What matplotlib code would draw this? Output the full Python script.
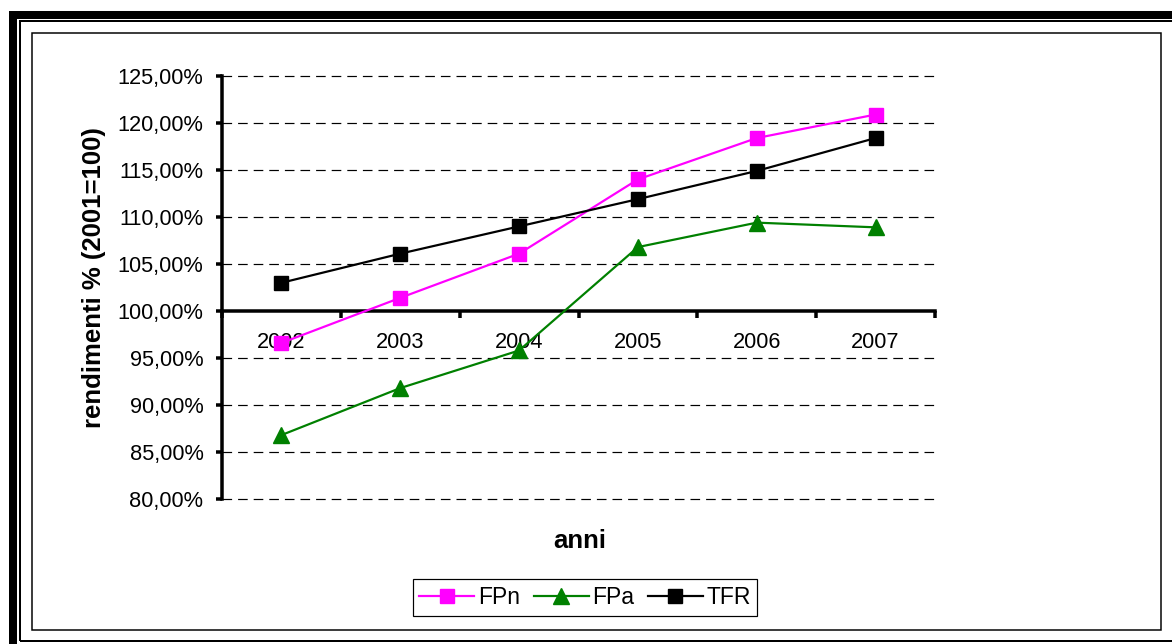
import matplotlib

matplotlib.use("Agg")
import matplotlib.pyplot as plt
from matplotlib.patches import Rectangle
from matplotlib.ticker import FixedLocator, FuncFormatter

plt.rcParams["font.family"] = ["Liberation Sans", "DejaVu Sans"]

# data (percent, 2001 = 100)
years = ["2002", "2003", "2004", "2005", "2006", "2007"]
fpn = [96.6, 101.4, 106.1, 114.0, 118.4, 120.9]
fpa = [86.8, 91.8, 95.8, 106.8, 109.4, 108.9]
tfr = [103.0, 106.1, 109.0, 111.9, 114.9, 118.4]
y_ticks = [80, 85, 90, 95, 100, 105, 110, 115, 120, 125]

W, H = 1172, 644


def fx(px):
    return px / W


def fy(py):
    return 1 - py / H


fig = plt.figure(figsize=(W / 100, H / 100), dpi=100)
px_pt = 72 / 100  # one pixel in points


def frame_rect(x0, y0, x1, y1, **kw):
    fig.add_artist(Rectangle((fx(x0), fy(y1)), fx(x1) - fx(x0), fy(y0) - fy(y1),
                             transform=fig.transFigure, zorder=-10, **kw))


# frame decoration (thick outer border, thin line, chart area box)
frame_rect(9, 11, 1300, 700, facecolor="black", edgecolor="none")
frame_rect(17, 19, 1300, 700, facecolor="white", edgecolor="none")
frame_rect(19.8, 21, 1300, 641, facecolor="none", edgecolor="black", linewidth=2 * px_pt)
frame_rect(31.5, 33, 1161, 630, facecolor="white", edgecolor="black", linewidth=1.5 * px_pt)

ax = fig.add_axes([fx(222), fy(499), fx(935) - fx(222), fy(76) - fy(499)])
ax.set_facecolor("none")

x = list(range(len(years)))
ax.plot(x, fpn, color="#FF00FF", linewidth=2.2 * px_pt, marker="s", markersize=14 * px_pt,
        label="FPn", zorder=4, clip_on=False)
ax.plot(x, fpa, color="#008000", linewidth=2.2 * px_pt, marker="^", markersize=16 * px_pt,
        label="FPa", zorder=4, clip_on=False)
ax.plot(x, tfr, color="black", linewidth=2.2 * px_pt, marker="s", markersize=14 * px_pt,
        label="TFR", zorder=4, clip_on=False)

ax.set_xlim(-0.5, len(years) - 0.5)
ax.set_ylim(80, 125)

# dashed gridlines
for v in y_ticks:
    if v != 100:
        ax.axhline(v, color="black", linewidth=1.2 * px_pt, dashes=(8, 5), zorder=1,
                   clip_on=False)

for s in ("top", "right"):
    ax.spines[s].set_visible(False)
ax.spines["left"].set_linewidth(3.5 * px_pt)
ax.spines["bottom"].set_linewidth(3.5 * px_pt)
ax.spines["bottom"].set_position(("data", 100))

ax.yaxis.set_major_locator(FixedLocator(y_ticks))
ax.yaxis.set_major_formatter(FuncFormatter(lambda v, _: f"{v:.2f}%".replace(".", ",")))
ax.tick_params(axis="y", direction="out", length=6 * px_pt, width=3.5 * px_pt,
               labelsize=15.7, pad=9)

ax.xaxis.set_major_locator(FixedLocator([i - 0.5 for i in range(len(years) + 1)]))
ax.xaxis.set_major_formatter(FuncFormatter(lambda v, _: ""))
ax.xaxis.set_minor_locator(FixedLocator(x))
ax.xaxis.set_minor_formatter(FuncFormatter(lambda v, _: years[int(round(v))]))
ax.tick_params(axis="x", which="major", direction="out", length=7 * px_pt, width=3.5 * px_pt)
ax.tick_params(axis="x", which="minor", length=0, labelsize=15.7, pad=15)

fig.text(fx(94), fy(278), "rendimenti % (2001=100)", rotation=90, ha="center", va="center",
         fontsize=18.5, fontweight="bold")
fig.text(fx(580), fy(541), "anni", ha="center", va="center", fontsize=18.5, fontweight="bold")

leg = fig.legend(loc="center", bbox_to_anchor=(fx(585), fy(597.5)), ncol=3, fontsize=16.5,
                 frameon=True, fancybox=False, edgecolor="black", framealpha=1,
                 handlelength=2.4, handletextpad=0.15, columnspacing=0.6,
                 borderpad=0.3, borderaxespad=0)
leg.get_frame().set_linewidth(1.2 * px_pt)

fig.savefig("out.png", dpi=100)
